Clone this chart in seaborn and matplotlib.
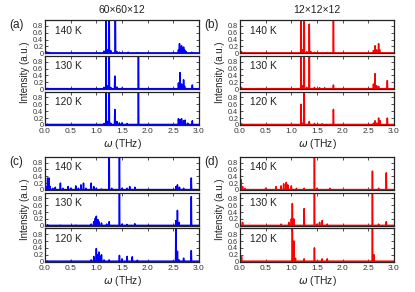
import numpy as np
import pandas as pd
import seaborn as sns
from matplotlib import pyplot as plt

sns.set_style("ticks")
plt.rcParams['font.family'] = ['Liberation Sans', 'DejaVu Sans']
plt.rcParams['mathtext.fontset'] = 'dejavusans'

temps = ["140 K", "130 K", "120 K"]
titles = ["60\u00d760\u00d712", "12\u00d712\u00d712"]
panel_tags = ["(a)", "(b)", "(c)", "(d)"]
xticks = [0.0, 0.5, 1.0, 1.5, 2.0, 2.5, 3.0]
yticks = [0, 0.2, 0.4, 0.6, 0.8]
ytick_labels = ["0", "0.2", "0.4", "0.6", "0.8"]

# peak positions (THz) and heights (a.u.); >1 means off scale
# (a) 60x60x12, upper set
a140_w = [0.0, 0.03, 0.06, 0.1, 1.15, 1.19, 1.22, 1.25, 1.28, 1.37, 1.40, 1.45, 1.62, 1.80,
          2.60, 2.62, 2.64, 2.66, 2.68, 2.70, 2.72, 2.75, 2.86]
a140_I = [0.05, 0.04, 0.03, 0.02, 0.06, 1.5, 0.1, 1.5, 0.08, 1.5, 0.05, 0.03, 0.03, 0.02,
          0.1, 0.28, 0.15, 0.22, 0.12, 0.18, 0.1, 0.05, 0.03]
a130_w = [0.05, 1.15, 1.19, 1.22, 1.25, 1.28, 1.36, 1.40, 1.50, 1.82,
          2.60, 2.63, 2.66, 2.70, 2.72, 2.87]
a130_I = [0.02, 0.05, 1.5, 0.1, 1.5, 0.05, 0.38, 0.06, 0.03, 1.5,
          0.18, 0.48, 0.15, 0.27, 0.08, 0.12]
a120_w = [0.05, 1.15, 1.19, 1.22, 1.25, 1.28, 1.36, 1.40, 1.45, 1.50, 1.60, 1.82,
          2.60, 2.63, 2.66, 2.70, 2.73, 2.78, 2.87]
a120_I = [0.02, 0.04, 1.5, 0.1, 1.5, 0.05, 0.45, 0.1, 0.06, 0.06, 0.04, 1.5,
          0.18, 0.15, 0.18, 0.12, 0.14, 0.05, 0.12]

# (b) 12x12x12, upper set
b140_w = [0.0, 0.03, 0.1, 1.19, 1.22, 1.25, 1.30, 1.35, 1.38, 1.45, 1.70, 1.82,
          2.60, 2.63, 2.66, 2.70, 2.72]
b140_I = [0.3, 0.05, 0.02, 1.5, 0.1, 1.5, 0.05, 0.85, 0.05, 0.03, 0.02, 1.5,
          0.08, 0.22, 0.1, 0.28, 0.1]
b130_w = [0.0, 0.03, 1.19, 1.22, 1.25, 1.30, 1.35, 1.45, 1.55, 1.65, 1.82,
          2.60, 2.63, 2.66, 2.70, 2.87]
b130_I = [0.2, 0.04, 1.5, 0.1, 1.5, 0.05, 1.5, 0.05, 0.04, 0.04, 0.12,
          0.15, 0.45, 0.1, 0.08, 0.25]
b120_w = [0.0, 0.03, 1.19, 1.22, 1.25, 1.35, 1.45, 1.60, 1.82,
          2.60, 2.63, 2.66, 2.70, 2.73, 2.87]
b120_I = [0.25, 0.03, 0.6, 0.05, 1.5, 0.1, 0.04, 0.03, 0.45,
          0.05, 0.12, 0.05, 0.2, 0.12, 0.2]

# (c) 60x60x12, lower set
c140_w = [0.0, 0.02, 0.05, 0.08, 0.10, 0.15, 0.20, 0.30, 0.35, 0.45, 0.50, 0.60, 0.65,
          0.70, 0.75, 0.80, 0.90, 0.95, 1.00, 1.10, 1.25, 1.30, 1.45, 1.50, 1.60, 1.65,
          1.75, 2.55, 2.58, 2.62, 2.70, 2.85]
c140_I = [0.6, 0.1, 0.35, 0.35, 0.1, 0.05, 0.08, 0.2, 0.05, 0.1, 0.05, 0.12, 0.05,
          0.15, 0.2, 0.05, 0.2, 0.1, 0.05, 0.03, 1.5, 0.05, 1.5, 0.05, 0.05, 0.1,
          0.08, 0.1, 0.15, 0.08, 0.05, 0.35]
c130_w = [0.05, 0.30, 0.60, 0.90, 0.95, 0.98, 1.00, 1.03, 1.05, 1.10, 1.20, 1.25,
          1.45, 1.50, 1.60, 1.75, 2.55, 2.58, 2.61, 2.85]
c130_I = [0.03, 0.02, 0.02, 0.05, 0.12, 0.22, 0.28, 0.18, 0.12, 0.08, 0.05, 0.12,
          1.5, 0.05, 0.04, 0.06, 0.15, 0.45, 0.1, 0.85]
c120_w = [0.05, 0.50, 0.90, 0.95, 1.00, 1.03, 1.05, 1.08, 1.10, 1.15, 1.25, 1.45,
          1.50, 1.60, 1.70, 1.80, 2.55, 2.58, 2.61, 2.70, 2.85]
c120_I = [0.02, 0.02, 0.05, 0.15, 0.38, 0.2, 0.28, 0.15, 0.2, 0.05, 0.05, 0.18,
          0.08, 0.15, 0.14, 0.04, 1.5, 0.3, 0.05, 0.1, 0.32]

# (d) 12x12x12, lower set
d140_w = [0.0, 0.02, 0.05, 0.10, 0.50, 0.70, 0.80, 0.85, 0.90, 0.93, 1.00, 1.10,
          1.25, 1.45, 1.50, 1.75, 2.58, 2.70, 2.85]
d140_I = [1.5, 0.3, 0.1, 0.05, 0.05, 0.1, 0.12, 0.18, 0.22, 0.15, 0.12, 0.05,
          0.05, 1.5, 0.05, 0.05, 0.55, 0.05, 0.5]
d130_w = [0.0, 0.05, 0.80, 0.95, 1.00, 1.02, 1.05, 1.25, 1.45, 1.50, 1.55, 1.60,
          1.70, 2.58, 2.70, 2.85]
d130_I = [0.8, 0.1, 0.05, 0.1, 0.2, 0.65, 0.2, 0.5, 1.5, 0.05, 0.1, 0.15,
          0.05, 1.5, 0.05, 0.12]
d120_w = [0.0, 0.03, 1.02, 1.05, 1.08, 1.25, 1.45, 1.60, 1.70, 2.58, 2.61]
d120_I = [0.8, 0.15, 1.5, 0.6, 0.1, 0.08, 0.4, 0.08, 0.08, 1.5, 0.2]

panels = [
    [(a140_w, a140_I), (a130_w, a130_I), (a120_w, a120_I)],
    [(b140_w, b140_I), (b130_w, b130_I), (b120_w, b120_I)],
    [(c140_w, c140_I), (c130_w, c130_I), (c120_w, c120_I)],
    [(d140_w, d140_I), (d130_w, d130_I), (d120_w, d120_I)],
]
colors = ["#0000ff", "#ff0000", "#0000ff", "#ff0000"]


def sticks(w, I, base=0.012, d=0.006):
    # narrow triangle for each peak so the line drops back to the baseline
    x, y = [-0.05], [base]
    for p, h in zip(w, I):
        x += [p - d, p, p + d]
        y += [base, h, base]
    x.append(3.05)
    y.append(base)
    return pd.DataFrame({"w": x, "I": y})


W, H = 415.0, 292.0
fig = plt.figure(figsize=(W / 100, H / 100), dpi=100)

col_left = [45, 240]
col_w = 154
group_top = [20, 156.7]
row_h = 33.3
gap = 2.5

for k in range(4):
    col = k % 2
    grp = k // 2
    for r in range(3):
        top = group_top[grp] + r * (row_h + gap)
        ax = fig.add_axes([col_left[col] / W, 1 - (top + row_h) / H, col_w / W, row_h / H])
        df = sticks(*panels[k][r])
        sns.lineplot(data=df, x="w", y="I", ax=ax, color=colors[k], lw=1.1,
                     estimator=None, sort=False)
        ax.set_xlim(0, 3.0)
        ax.set_ylim(0, 0.97)
        ax.set_xticks(xticks)
        ax.set_yticks(yticks)
        ax.set_yticklabels(ytick_labels)
        ax.tick_params(direction="in", top=True, right=True, length=2.2, width=0.6,
                       labelsize=5.2, pad=1.2, colors="#333333", labelcolor="#333333")
        ax.tick_params(axis="x", labelsize=6, pad=2.5)
        for s in ax.spines.values():
            s.set_linewidth(0.9)
            s.set_color("#222222")
        ax.set_ylabel(None)
        ax.set_xlabel(None)
        ax.text(0.065, 0.68, temps[r], transform=ax.transAxes, fontsize=7.4,
                va="center", ha="left", color="#222222")
        if r < 2:
            ax.set_xticklabels([])
        else:
            ax.set_xticklabels(["%.1f" % t for t in xticks])
            ax.set_xlabel("$\\omega$ (THz)", fontsize=7.5, labelpad=1.5, color="#222222")
        if r == 1:
            ax.set_ylabel("Intensity (a.u.)", fontsize=7, labelpad=2, color="#222222")
        if r == 0:
            ax.text(-0.23, 0.85, panel_tags[k], transform=ax.transAxes, fontsize=8.5,
                    va="center", ha="left", color="#222222")
            if grp == 0:
                ax.set_title(titles[col], fontsize=7.5, pad=5, color="#222222")

plt.savefig("out.png", dpi=100)
